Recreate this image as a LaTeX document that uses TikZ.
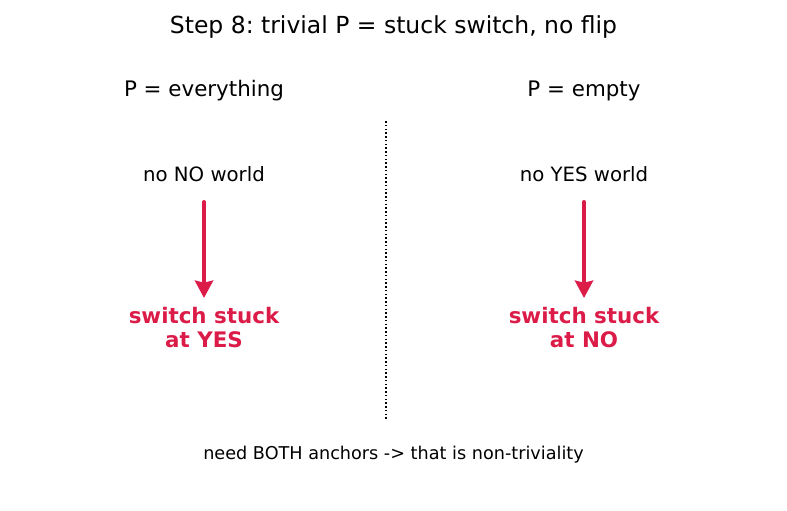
\documentclass[tikz,border=0pt]{standalone}
\usepackage{fontspec}
\setmainfont{DejaVu Sans}
\usetikzlibrary{arrows.meta}
\definecolor{crimson}{RGB}{220,28,72}
\frenchspacing
\begin{document}
\begin{tikzpicture}[x=0.72pt,y=-0.72pt,
  ttl/.style={font=\fontsize{16.9}{20}\selectfont,inner sep=0pt},
  hd/.style={font=\fontsize{15.4}{18}\selectfont,inner sep=0pt},
  wl/.style={font=\fontsize{14.2}{17}\selectfont,inner sep=0pt},
  stk/.style={font=\fontsize{15.4}{17.3}\selectfont\bfseries,text=crimson,align=center,inner sep=0pt},
  nt/.style={font=\fontsize{12.7}{15}\selectfont,inner sep=0pt},
  arr/.style={draw=crimson,line width=2.9pt,line cap=round,-{Stealth[length=12.5pt,width=13pt,inset=1.5pt]}}]
  \useasboundingbox (0,0) rectangle (787,510);
  \node[ttl] (title) at (393.5,27) {Step 8: trivial P = stuck switch, no flip};
  % left side
  \node[hd] (pall) at (204,91) {P = everything};
  \node[wl] (wno) at (204,174) {no NO world};
  \node[stk] (syes) at (204,327.5) {switch stuck\\at YES};
  \coordinate (a1) at (204,202);
  \coordinate (b1) at (204,298);
  \draw[arr] (a1) -- (b1);
  % right side
  \node[hd] (pnone) at (584,91) {P = empty};
  \node[wl] (wyes) at (584,174) {no YES world};
  \node[stk] (sno) at (584,327.5) {switch stuck\\at NO};
  \coordinate (a2) at (584,202);
  \coordinate (b2) at (584,298);
  \draw[arr] (a2) -- (b2);
  % divider
  \coordinate (d1) at (386,121);
  \coordinate (d2) at (386,420);
  \draw[line width=1.1pt,dash pattern=on 1.1pt off 1.6pt] (d1) -- (d2);
  \node[nt] (note) at (393.5,455) {need BOTH anchors -> that is non-triviality};
\end{tikzpicture}
\end{document}
